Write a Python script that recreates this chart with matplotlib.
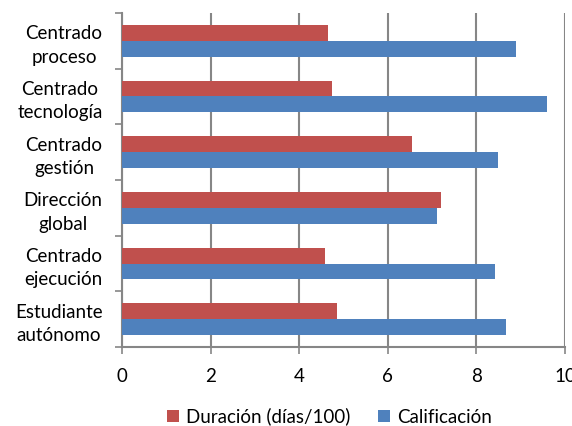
import numpy as np
import matplotlib
matplotlib.use("Agg")
import matplotlib.pyplot as plt

plt.rcParams['font.family'] = ['Lato', 'DejaVu Sans']

# data (top to bottom as in the chart)
categories = ['Centrado\nproceso', 'Centrado\ntecnología', 'Centrado\ngestión',
              'Dirección\nglobal', 'Centrado\nejecución', 'Estudiante\nautónomo']
duracion = [4.65, 4.74, 6.54, 7.21, 4.59, 4.86]
calificacion = [8.9, 9.6, 8.49, 7.1, 8.42, 8.66]

red = '#C0504D'
blue = '#4F81BD'
grid_gray = '#868686'
fs = 13.5

fig = plt.figure(figsize=(5.72, 4.26), dpi=100)
ax = fig.add_axes([0.2133, 0.1854, 0.7745, 0.7841])

n = len(categories)
y = np.arange(n)[::-1]  # first category at top
h = 0.287

ax.barh(y + h / 2, duracion, h, color=red, label='Duración (días/100)', zorder=3)
ax.barh(y - h / 2, calificacion, h, color=blue, label='Calificación', zorder=3)

ax.set_xlim(0, 10)
ax.set_ylim(-0.5, n - 0.5)
ax.set_xticks(np.arange(0, 11, 2))
ax.set_yticks(y)
ax.set_yticklabels(categories, fontsize=fs, multialignment='center', linespacing=1.45)
ax.tick_params(axis='y', length=0, pad=14)
ax.tick_params(axis='x', labelsize=fs, length=5, color=grid_gray, width=1.2, pad=10)

# minor ticks between categories on the y axis
ax.set_yticks(np.arange(-0.5, n, 1), minor=True)
ax.tick_params(axis='y', which='minor', length=5, color=grid_gray, width=1.2)

ax.grid(axis='x', color=grid_gray, linewidth=1.5, zorder=0)
for s in ['top', 'right']:
    ax.spines[s].set_visible(False)
for s in ['left', 'bottom']:
    ax.spines[s].set_color(grid_gray)
    ax.spines[s].set_linewidth(1.5)

fig.legend(loc='center', bbox_to_anchor=(0.576, 0.022), ncol=2, frameon=False,
           fontsize=fs, handlelength=0.65, handleheight=0.65, handletextpad=0.35,
           columnspacing=1.5, borderpad=0)

fig.savefig('out.png', dpi=100)
